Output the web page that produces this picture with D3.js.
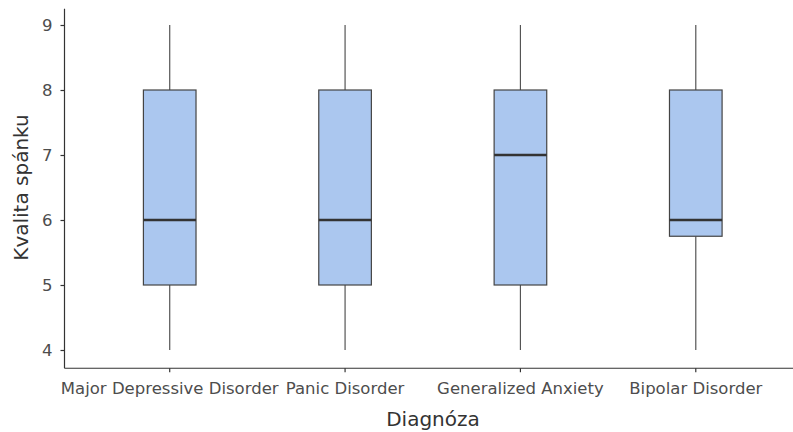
<!DOCTYPE html>
<html>
<head>
<meta charset="utf-8">
<script src="https://cdn.jsdelivr.net/npm/d3@7"></script>
<style>
  body { margin: 0; background: #fff; }
  svg { display: block; font-family: "DejaVu Sans", sans-serif; }
</style>
</head>
<body>
<svg id="chart" width="793" height="432"></svg>
<script>
// Sleep quality by diagnosis: five-number summaries per group
const categories = ["Major Depressive Disorder", "Panic Disorder", "Generalized Anxiety", "Bipolar Disorder"];
const whiskerLow = [4, 4, 4, 4];
const q1 = [5, 5, 5, 5.75];
const median = [6, 6, 7, 6];
const q3 = [8, 8, 8, 8];
const whiskerHigh = [9, 9, 9, 9];
const yTicks = [4, 5, 6, 7, 8, 9];

const svg = d3.select("#chart");
const W = 793, H = 432;
const margin = { left: 64.5, right: -8, top: 8.75, bottom: 65.75 };
const innerBottom = H - margin.bottom;
const tickFont = 16.5;

const x = d3.scaleBand()
  .domain(categories)
  .range([margin.left, W - margin.right])
  .paddingOuter(0.1)
  .paddingInner(0);

const y = d3.scaleLinear()
  .domain([3.75, 9.25])
  .range([innerBottom, margin.top]);

const boxW = x.bandwidth() * 0.3;
const data = categories.map((c, i) => ({
  c, lo: whiskerLow[i], q1: q1[i], med: median[i], q3: q3[i], hi: whiskerHigh[i]
}));

const g = svg.append("g");
const cx = d => x(d.c) + x.bandwidth() / 2;

// whiskers
g.selectAll(".wh-up").data(data).join("line")
  .attr("x1", cx).attr("x2", cx)
  .attr("y1", d => y(d.q3)).attr("y2", d => y(d.hi))
  .attr("stroke", "#555").attr("stroke-width", 1.2);
g.selectAll(".wh-dn").data(data).join("line")
  .attr("x1", cx).attr("x2", cx)
  .attr("y1", d => y(d.q1)).attr("y2", d => y(d.lo))
  .attr("stroke", "#555").attr("stroke-width", 1.2);

// boxes
g.selectAll("rect.box").data(data).join("rect")
  .attr("class", "box")
  .attr("x", d => cx(d) - boxW / 2)
  .attr("width", boxW)
  .attr("y", d => y(d.q3))
  .attr("height", d => y(d.q1) - y(d.q3))
  .attr("fill", "#abc7ef")
  .attr("stroke", "#444")
  .attr("stroke-width", 1.2);

// medians
g.selectAll("line.med").data(data).join("line")
  .attr("class", "med")
  .attr("x1", d => cx(d) - boxW / 2).attr("x2", d => cx(d) + boxW / 2)
  .attr("y1", d => y(d.med)).attr("y2", d => y(d.med))
  .attr("stroke", "#333").attr("stroke-width", 2.3);

// y axis
const yAxis = svg.append("g")
  .attr("transform", `translate(${margin.left},0)`)
  .call(d3.axisLeft(y).tickValues(yTicks).tickSize(4).tickPadding(8).tickFormat(d3.format("d")));
yAxis.select(".domain").attr("stroke", "#333").attr("stroke-width", 1.2)
  .attr("d", `M0,${margin.top}V${innerBottom + 2}`);
yAxis.selectAll(".tick line").attr("stroke", "#333").attr("stroke-width", 1.2);
yAxis.selectAll(".tick text").attr("fill", "#4d4d4d").attr("font-size", tickFont)
  .attr("font-family", "DejaVu Sans, sans-serif");

// x axis
const xAxis = svg.append("g")
  .attr("transform", `translate(0,${innerBottom + 2})`)
  .call(d3.axisBottom(x).tickSize(4).tickPadding(10));
xAxis.select(".domain").attr("stroke", "#333").attr("stroke-width", 1.2)
  .attr("d", `M${margin.left},0H${W}`);
xAxis.selectAll(".tick line").attr("stroke", "#333").attr("stroke-width", 1.2);
xAxis.selectAll(".tick text").attr("fill", "#4d4d4d").attr("font-size", tickFont)
  .attr("font-family", "DejaVu Sans, sans-serif");

// axis titles
svg.append("text")
  .attr("x", 433).attr("y", 426)
  .attr("text-anchor", "middle")
  .attr("font-size", 20).attr("fill", "#333")
  .text("Diagnóza");

svg.append("text")
  .attr("transform", `translate(28,${(margin.top + innerBottom) / 2}) rotate(-90)`)
  .attr("text-anchor", "middle")
  .attr("font-size", 20).attr("fill", "#333")
  .text("Kvalita spánku");
</script>
</body>
</html>
